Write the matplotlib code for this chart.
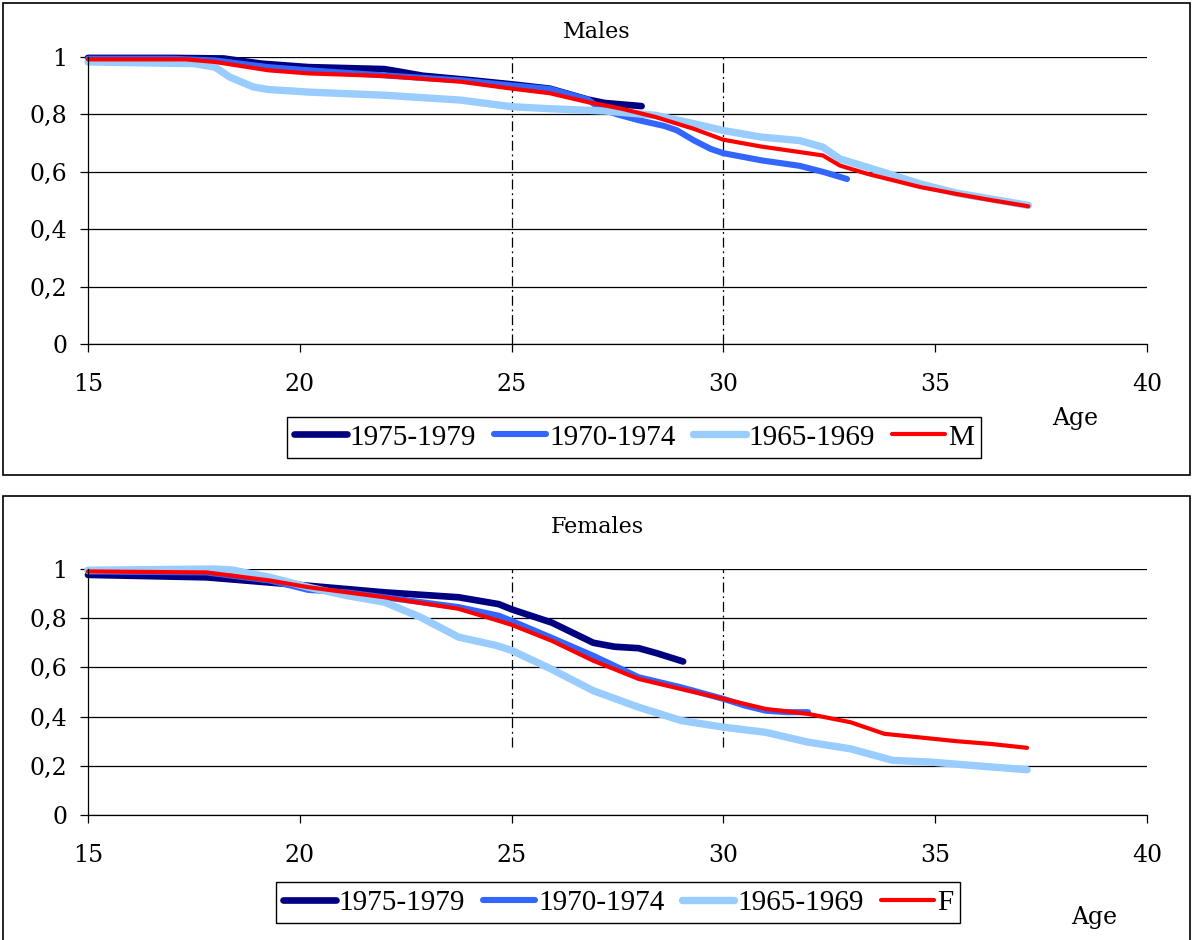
import numpy as np
import matplotlib
matplotlib.use('Agg')
import matplotlib.pyplot as plt
from matplotlib.patches import Rectangle

plt.rcParams['font.family'] = 'DejaVu Serif'

# Males
m_7579_x = [15, 16, 17, 18.2, 19.1, 20.2, 21, 22, 22.4, 22.9, 24, 25, 25.9, 26.8, 27.2, 28.07]
m_7579_y = [.997, .997, .997, .995, .977, .965, .962, .958, .948, .935, .92, .905, .89, .852, .84, .829]
m_7074_x = [15, 17, 18, 19.25, 20.2, 22, 23.8, 25, 25.9, 26.8, 27.1, 27.5, 28.0, 28.6, 28.9, 29.3, 29.7, 30, 30.9, 31.8, 32.4, 32.92]
m_7074_y = [.994, .994, .988, .965, .954, .936, .919, .901, .889, .852, .82, .80, .78, .76, .745, .71, .68, .665, .64, .621, .598, .575]
m_6569_x = [15, 17.5, 18.0, 18.35, 18.9, 19.25, 20.2, 22, 23.8, 25, 25.9, 27.2, 28.4, 29.3, 30, 30.9, 31.8, 32.35, 32.75, 33.4, 34.65, 35.5, 36.3, 37.2]
m_6569_y = [.983, .977, .965, .93, .896, .887, .878, .867, .85, .827, .82, .812, .797, .768, .744, .721, .709, .686, .645, .616, .558, .526, .506, .483]
m_all_x = [15, 17.3, 18, 19.25, 20.2, 22, 23.8, 25, 25.9, 26.8, 27.6, 28.4, 29.3, 30, 30.9, 31.8, 32.35, 32.75, 33.4, 34.65, 35.5, 36.3, 37.2]
m_all_y = [.992, .992, .983, .954, .943, .934, .914, .89, .874, .843, .82, .791, .75, .712, .688, .669, .657, .622, .593, .547, .523, .502, .48]

# Females
f_7579_x = [15, 17.8, 20.2, 22, 23.75, 24.7, 25, 25.95, 26.93, 27.43, 28.0, 28.42, 29.05]
f_7579_y = [.976, .966, .932, .905, .885, .857, .836, .782, .70, .684, .678, .658, .624]
f_7074_x = [15, 17.8, 19.3, 20.2, 21.1, 22, 23.75, 24.7, 25, 25.95, 26.93, 28.0, 29.0, 30, 30.5, 31, 31.5, 32.0]
f_7074_y = [.99, .986, .953, .915, .905, .885, .845, .81, .789, .72, .647, .56, .519, .472, .445, .424, .418, .418]
f_6569_x = [15, 18, 18.4, 19.3, 20.2, 21.1, 22, 22.85, 23.75, 24.64, 25, 25.94, 26.93, 28.0, 29.0, 30, 31, 32, 33, 34, 34.9, 35.9, 37.17]
f_6569_y = [.995, 1.0, .996, .966, .926, .892, .865, .804, .723, .689, .669, .593, .505, .438, .384, .357, .336, .296, .269, .222, .215, .201, .184]
f_all_x = [15, 17.8, 19.3, 20.2, 22, 23.75, 24.7, 25, 25.95, 26.93, 28.0, 29.0, 30, 31, 32, 33, 33.8, 34.6, 35.5, 36.3, 37.17]
f_all_y = [.99, .986, .953, .926, .885, .838, .789, .773, .708, .627, .553, .512, .472, .431, .411, .377, .33, .316, .30, .289, .273]

yticks = [0, 0.2, 0.4, 0.6, 0.8, 1]
ytick_labels = ['0', '0,2', '0,4', '0,6', '0,8', '1']
xticks = [15, 20, 25, 30, 35, 40]
ref_ages = [25, 30]

colors = ['#000080', '#3366FF', '#99CCFF', '#FF0000']
widths = [4.8, 4.4, 5.3, 3.0]
cohorts = ['1975-1979', '1970-1974', '1965-1969']

fig = plt.figure(figsize=(11.92, 9.40), dpi=100)

# panel frames
fig.patches.append(Rectangle((0.0025, 0.4947), 0.9958, 0.5021, transform=fig.transFigure,
                             fill=False, ec='black', lw=1.2))
fig.patches.append(Rectangle((0.0025, -0.01), 0.9958, 0.4823, transform=fig.transFigure,
                             fill=False, ec='black', lw=1.2))

ax1 = fig.add_axes([0.0738, 0.6340, 0.8884, 0.3053])
ax2 = fig.add_axes([0.0738, 0.1330, 0.8884, 0.2617])

panels = [
    (ax1, [(m_7579_x, m_7579_y), (m_7074_x, m_7074_y), (m_6569_x, m_6569_y), (m_all_x, m_all_y)],
     'M', 0.0, (0.5319, 0.5346), 'Males', 0.966, (0.902, 0.555)),
    (ax2, [(f_7579_x, f_7579_y), (f_7074_x, f_7074_y), (f_6569_x, f_6569_y), (f_all_x, f_all_y)],
     'F', 0.276, (0.5185, 0.0394), 'Females', 0.4394, (0.918, 0.024)),
]

for ax, series, total, vmin, leg_pos, title, title_y, age_pos in panels:
    labels = cohorts + [total]
    for (xs, ys), c, lw, lab in zip(series, colors, widths, labels):
        ax.plot(xs, ys, color=c, lw=lw, label=lab, solid_capstyle='round',
                solid_joinstyle='round', clip_on=False)
    for a in ref_ages:
        ax.axvline(a, ymin=vmin, ymax=1, color='black', lw=0.9,
                   dashes=(8, 3, 1.5, 3), zorder=1)
    ax.set_xlim(15, 40)
    ax.set_ylim(0, 1)
    ax.set_yticks(yticks)
    ax.set_yticklabels(ytick_labels)
    ax.set_xticks(xticks)
    ax.yaxis.grid(True, color='black', lw=0.9)
    ax.set_axisbelow(True)
    for s in ['top', 'right']:
        ax.spines[s].set_visible(False)
    ax.spines['left'].set_linewidth(0.9)
    ax.spines['bottom'].set_linewidth(0.9)
    ax.tick_params(axis='y', direction='out', length=6, width=0.9, pad=9, labelsize=17)
    ax.tick_params(axis='x', direction='out', length=6, width=0.9, pad=15, labelsize=17)

    leg = ax.legend(loc='center', bbox_to_anchor=leg_pos, bbox_transform=fig.transFigure,
                    ncol=4, frameon=True, fancybox=False, edgecolor='black', framealpha=1,
                    prop=dict(family='Liberation Serif', size=21),
                    handlelength=1.8, handletextpad=0.1, columnspacing=0.6,
                    borderpad=0.25, borderaxespad=0)
    leg.get_frame().set_linewidth(1.0)

    fig.text(0.5008, title_y, title, ha='center', va='center', fontsize=16)
    fig.text(age_pos[0], age_pos[1], 'Age', ha='center', va='center', fontsize=17)

fig.savefig('out.png', dpi=100)
